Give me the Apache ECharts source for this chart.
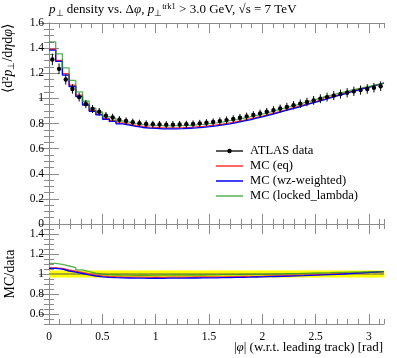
<!DOCTYPE html>
<html><head><meta charset="utf-8">
<script src="https://cdn.jsdelivr.net/npm/echarts@6/dist/echarts.min.js"></script>
<style>html,body{margin:0;padding:0;background:#fff}#c{width:397px;height:358px}</style>
</head><body><div id="c"></div>
<script>
// ---------------- data ----------------
const nBins = 50;
const xMax = Math.PI;
const xTickLabels = [0, 0.5, 1, 1.5, 2, 2.5, 3];
const ratioTickLabels = [0.6, 0.8, 1, 1.2, 1.4];

const dataVals = [
  1.310, 1.235, 1.150, 1.075, 1.010, 0.955, 0.915, 0.893, 0.862, 0.848,
  0.830, 0.820, 0.810, 0.802, 0.797, 0.794, 0.792, 0.791, 0.791, 0.792,
  0.794, 0.797, 0.801, 0.806, 0.812, 0.819, 0.827, 0.836, 0.846, 0.857,
  0.868, 0.880, 0.893, 0.906, 0.919, 0.932, 0.945, 0.958, 0.971, 0.984,
  0.997, 1.010, 1.022, 1.034, 1.045, 1.056, 1.066, 1.075, 1.085, 1.097
];
const dataErr = [
  0.046, 0.043, 0.040, 0.037, 0.035, 0.033, 0.032, 0.031, 0.030, 0.030,
  0.029, 0.029, 0.028, 0.028, 0.028, 0.028, 0.028, 0.028, 0.028, 0.028,
  0.028, 0.028, 0.028, 0.028, 0.029, 0.029, 0.029, 0.029, 0.030, 0.030,
  0.030, 0.031, 0.031, 0.032, 0.032, 0.033, 0.033, 0.034, 0.034, 0.035,
  0.035, 0.035, 0.036, 0.036, 0.037, 0.037, 0.037, 0.038, 0.038, 0.038
];
const ratioEq = [
  1.062, 1.055, 1.040, 1.028, 1.015, 1.000, 0.988, 0.980, 0.975, 0.972,
  0.970, 0.969, 0.968, 0.968, 0.967, 0.968, 0.967, 0.968, 0.968, 0.969,
  0.969, 0.970, 0.970, 0.971, 0.971, 0.972, 0.973, 0.974, 0.975, 0.976,
  0.977, 0.978, 0.980, 0.981, 0.983, 0.985, 0.987, 0.989, 0.991, 0.994,
  0.996, 0.999, 1.002, 1.005, 1.008, 1.012, 1.015, 1.018, 1.021, 1.023
];
const ratioWz = [
  1.057, 1.048, 1.030, 1.018, 1.005, 0.992, 0.980, 0.972, 0.967, 0.963,
  0.961, 0.960, 0.959, 0.958, 0.957, 0.958, 0.957, 0.958, 0.958, 0.959,
  0.960, 0.960, 0.961, 0.962, 0.962, 0.963, 0.964, 0.966, 0.967, 0.968,
  0.970, 0.971, 0.973, 0.975, 0.977, 0.979, 0.981, 0.983, 0.986, 0.988,
  0.991, 0.994, 0.997, 1.000, 1.004, 1.008, 1.012, 1.016, 1.020, 1.023
];
const ratioLocked = [
  1.107, 1.097, 1.080, 1.063, 1.042, 1.023, 1.008, 0.998, 0.992, 0.990,
  0.988, 0.988, 0.987, 0.988, 0.987, 0.988, 0.989, 0.988, 0.990, 0.989,
  0.990, 0.991, 0.990, 0.992, 0.991, 0.993, 0.994, 0.993, 0.995, 0.996,
  0.997, 0.996, 0.998, 1.000, 1.001, 1.003, 1.004, 1.006, 1.008, 1.010,
  1.012, 1.013, 1.015, 1.016, 1.018, 1.019, 1.020, 1.021, 1.022, 1.023
];
const seriesNames = ['ATLAS data', 'MC (eq)', 'MC (wz-weighted)', 'MC (locked_lambda)'];
const seriesColors = ['#000000', '#ff3333', '#0000ff', 'rgba(30,150,30,0.75)'];

// ---------------- derived tables ----------------
const binW = xMax / nBins;
const edges = Array.from({length: nBins + 1}, (_, i) => i * binW);
const centers = dataVals.map((_, i) => (i + 0.5) * binW);
function stepData(vals) {
  const d = vals.map((v, i) => [edges[i], v]);
  d.push([edges[nBins], vals[nBins - 1]]);
  return d;
}
const mcEq = dataVals.map((d, i) => d * ratioEq[i]);
const mcWz = dataVals.map((d, i) => d * ratioWz[i]);
const mcLocked = dataVals.map((d, i) => d * ratioLocked[i]);

const FONT = 'Liberation Serif';
const AX = '#8c8c8c';

function xAxisPair(gridIndex, position, showLabels) {
  return [
    { // major
      type: 'value', gridIndex, position, min: 0, max: xMax,
      axisLine: {show: true, lineStyle: {color: AX, width: 1}},
      axisTick: {show: true, inside: true, length: 10, customValues: xTickLabels, lineStyle: {color: AX}},
      axisLabel: {show: showLabels, customValues: xTickLabels, fontFamily: FONT, fontSize: 11.5, color: '#000', margin: 7},
      splitLine: {show: false}
    },
    { // minor
      type: 'value', gridIndex, position, min: 0, max: xMax, interval: 0.1,
      axisLine: {show: false},
      axisTick: {show: true, inside: true, length: 5, lineStyle: {color: AX}},
      axisLabel: {show: false},
      splitLine: {show: false}
    }
  ];
}
const numFmt = v => (Math.abs(v - Math.round(v)) < 1e-9 ? String(Math.round(v)) : v.toFixed(1));

const chart = echarts.init(document.getElementById('c'), null, {renderer: 'canvas'});

const option = {
  animation: false,
  backgroundColor: '#fff',
  grid: [
    {left: 49, top: 23, width: 335, height: 201},
    {left: 49, top: 224, width: 335, height: 100}
  ],
  xAxis: [
    ...xAxisPair(0, 'bottom', false),   // 0,1
    ...xAxisPair(0, 'top', false),      // 2,3
    ...xAxisPair(1, 'bottom', true),    // 4,5
    ...xAxisPair(1, 'top', false)       // 6,7
  ],
  yAxis: [
    { // 0 main left
      type: 'value', gridIndex: 0, position: 'left', min: 0, max: 1.6, interval: 0.2,
      axisLine: {show: true, lineStyle: {color: AX}},
      axisTick: {show: true, inside: true, length: 10, lineStyle: {color: AX}},
      minorTick: {show: true, splitNumber: 4, length: 5, lineStyle: {color: AX}},
      axisLabel: {fontFamily: FONT, fontSize: 11.5, color: '#000', margin: 5, formatter: numFmt},
      splitLine: {show: false}
    },
    { // 1 main right
      type: 'value', gridIndex: 0, position: 'right', min: 0, max: 1.6, interval: 0.2,
      axisLine: {show: true, lineStyle: {color: AX}},
      axisTick: {show: true, inside: true, length: 10, lineStyle: {color: AX}},
      minorTick: {show: true, splitNumber: 4, length: 5, lineStyle: {color: AX}},
      axisLabel: {show: false}, splitLine: {show: false}
    },
    { // 2 ratio left major
      type: 'value', gridIndex: 1, position: 'left', min: 0.5, max: 1.5,
      axisLine: {show: true, lineStyle: {color: AX}},
      axisTick: {show: true, inside: true, length: 10, customValues: ratioTickLabels, lineStyle: {color: AX}},
      axisLabel: {customValues: ratioTickLabels, fontFamily: FONT, fontSize: 11.5, color: '#000', margin: 5, formatter: numFmt},
      splitLine: {show: false}
    },
    { // 3 ratio left minor
      type: 'value', gridIndex: 1, position: 'left', min: 0.5, max: 1.5, interval: 0.05,
      axisLine: {show: false},
      axisTick: {show: true, inside: true, length: 5, lineStyle: {color: AX}},
      axisLabel: {show: false}, splitLine: {show: false}
    },
    { // 4 ratio right major
      type: 'value', gridIndex: 1, position: 'right', min: 0.5, max: 1.5,
      axisLine: {show: true, lineStyle: {color: AX}},
      axisTick: {show: true, inside: true, length: 10, customValues: ratioTickLabels, lineStyle: {color: AX}},
      axisLabel: {show: false}, splitLine: {show: false}
    },
    { // 5 ratio right minor
      type: 'value', gridIndex: 1, position: 'right', min: 0.5, max: 1.5, interval: 0.05,
      axisLine: {show: false},
      axisTick: {show: true, inside: true, length: 5, lineStyle: {color: AX}},
      axisLabel: {show: false}, splitLine: {show: false}
    }
  ],
  series: [
    // ---- main panel ----
    {name: seriesNames[1], type: 'line', xAxisIndex: 0, yAxisIndex: 0, step: 'end', symbol: 'none',
     data: stepData(mcEq), lineStyle: {color: seriesColors[1], width: 1.3}, z: 3},
    {name: seriesNames[2], type: 'line', xAxisIndex: 0, yAxisIndex: 0, step: 'end', symbol: 'none',
     data: stepData(mcWz), lineStyle: {color: seriesColors[2], width: 1.3}, z: 4},
    {name: seriesNames[3], type: 'line', xAxisIndex: 0, yAxisIndex: 0, step: 'end', symbol: 'none',
     data: stepData(mcLocked), lineStyle: {color: seriesColors[3], width: 1.3}, z: 5},
    {name: seriesNames[0], type: 'custom', xAxisIndex: 0, yAxisIndex: 0, z: 10,
     data: centers.map((c, i) => [c, dataVals[i], dataErr[i]]),
     renderItem: (params, api) => {
       const x = api.value(0), y = api.value(1), e = api.value(2);
       const p = api.coord([x, y]);
       const t = api.coord([x, y + e]);
       const b = api.coord([x, y - e]);
       return {type: 'group', children: [
         {type: 'line', shape: {x1: p[0], y1: t[1], x2: p[0], y2: b[1]}, style: {stroke: '#000', lineWidth: 1}},
         {type: 'circle', shape: {cx: p[0], cy: p[1], r: 2.2}, style: {fill: '#000'}}
       ]};
     }},
    // ---- ratio panel ----
    {name: 'data band', type: 'custom', xAxisIndex: 4, yAxisIndex: 2, z: 1,
     data: dataVals.map((v, i) => [edges[i], edges[i + 1], dataErr[i] / v]),
     renderItem: (params, api) => {
       const a = api.coord([api.value(0), 1 + api.value(2)]);
       const b = api.coord([api.value(1), 1 - api.value(2)]);
       return {type: 'rect', shape: {x: a[0], y: a[1], width: b[0] - a[0] + 0.5, height: b[1] - a[1]},
               style: {fill: '#ffff00'}};
     }},
    {name: 'data ratio', type: 'line', xAxisIndex: 4, yAxisIndex: 2, step: 'end', symbol: 'none',
     data: stepData(dataVals.map(v => v / v)), lineStyle: {color: '#555', width: 1}, z: 2},
    {name: 'r eq', type: 'line', xAxisIndex: 4, yAxisIndex: 2, step: 'end', symbol: 'none',
     data: stepData(ratioEq), lineStyle: {color: seriesColors[1], width: 1.3}, z: 3},
    {name: 'r wz', type: 'line', xAxisIndex: 4, yAxisIndex: 2, step: 'end', symbol: 'none',
     data: stepData(ratioWz), lineStyle: {color: seriesColors[2], width: 1.3}, z: 4},
    {name: 'r locked', type: 'line', xAxisIndex: 4, yAxisIndex: 2, step: 'end', symbol: 'none',
     data: stepData(ratioLocked), lineStyle: {color: seriesColors[3], width: 1.3}, z: 5}
  ],
  graphic: [
    {type: 'text', x: 49, y: 10, style: {
      text: '{i|p}{sub|⊥} density vs. Δ{i|φ}, {i|p}{sub|⊥}{sup|trk1} > 3.0 GeV, √{o|s} = 7 TeV',
      font: '13px ' + FONT, fill: '#000', verticalAlign: 'middle',
      rich: {
        i: {fontStyle: 'italic', fontSize: 13, fontFamily: FONT, lineHeight: 16},
        o: {fontSize: 13, fontFamily: FONT, lineHeight: 16},
        sub: {fontSize: 8.5, fontFamily: FONT, lineHeight: 9, verticalAlign: 'bottom'},
        sup: {fontSize: 8.5, fontFamily: FONT, lineHeight: 9, verticalAlign: 'top'}
      }}},
    {type: 'text', x: 8, y: 24, rotation: Math.PI / 2, style: {
      text: '⟨d²{i|p}{sub|⊥}/d{i|η}d{i|φ}⟩',
      font: '14px ' + FONT, fill: '#000', align: 'right', verticalAlign: 'middle',
      rich: {
        i: {fontStyle: 'italic', fontSize: 14, fontFamily: FONT, lineHeight: 17},
        sub: {fontSize: 9, fontFamily: FONT, lineHeight: 9, verticalAlign: 'bottom'}
      }}},
    {type: 'text', x: 10, y: 274, rotation: Math.PI / 2, style: {
      text: 'MC/data', font: '14px ' + FONT, fill: '#000', align: 'center', verticalAlign: 'middle'}},
    {type: 'text', x: 383, y: 348, style: {
      text: '|{i|φ}| (w.r.t. leading track) [rad]', font: '13px ' + FONT, fill: '#000',
      align: 'right', verticalAlign: 'middle',
      rich: {i: {fontStyle: 'italic', fontSize: 13, fontFamily: FONT}}}},
    // legend
    ...seriesNames.map((nm, k) => ({type: 'group', children: [
      {type: 'line', shape: {x1: 216, y1: 151 + k * 15, x2: 243, y2: 151 + k * 15},
       style: {stroke: seriesColors[k], lineWidth: k === 0 ? 1.3 : 1.5}},
      ...(k === 0 ? [{type: 'circle', shape: {cx: 229.5, cy: 151, r: 2.2}, style: {fill: '#000'}}] : []),
      {type: 'text', x: 250, y: 151 + k * 15, style: {text: nm, font: '12.6px ' + FONT, fill: '#000', verticalAlign: 'middle'}}
    ]}))
  ]
};
chart.setOption(option);
</script>
</body></html>
